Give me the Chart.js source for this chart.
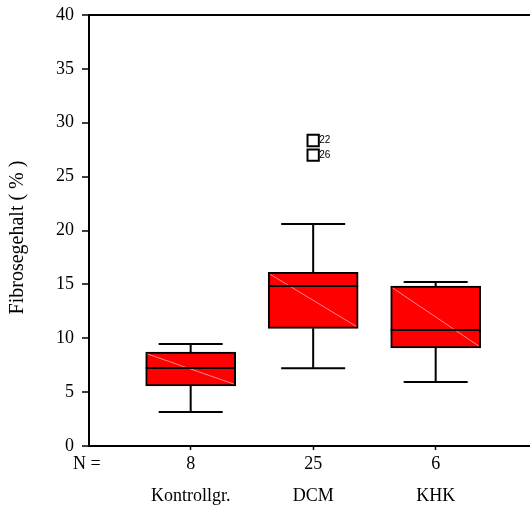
<!DOCTYPE html>
<html>
<head>
<meta charset="utf-8">
<script src="https://cdn.jsdelivr.net/npm/chart.js@4.4.1/dist/chart.umd.min.js"></script>
<style>
  html, body { margin: 0; padding: 0; background: #fff; overflow: hidden; }
  canvas { display: block; }
</style>
</head>
<body>
<canvas id="fibroseChart" width="530" height="508"></canvas>
<script>
const groups = ['Kontrollgr.', 'DCM', 'KHK'];
const groupN = [8, 25, 6];
const whiskerLow = [3.16, 7.21, 5.94];
const quartile1 = [5.57, 10.92, 9.1];
const medians = [7.24, 14.85, 10.77];
const quartile3 = [8.72, 16.12, 14.85];
const whiskerHigh = [9.47, 20.6, 15.22];

const outlierGroup = [1, 1];
const outlierValues = [28.35, 27.0];
const outlierCases = ['22', '26'];

const serif = 'Liberation Serif';
const yTitle = 'Fibrosegehalt ( % )';

// whiskers, caps, medians, outlier case numbers and the axis captions
const boxParts = {
    id: 'boxParts',
    afterDatasetDraw(chart, args) {
        if (args.index !== 0) return;
        const x = chart.scales.x, y = chart.scales.y, ctx = chart.ctx;
        const meta = chart.getDatasetMeta(0);
        ctx.save();
        groups.forEach((g, i) => {
            const cx = x.getPixelForValue(i);
            const bar = meta.data[i];
            const half = bar.width / 2;
            const yTop = y.getPixelForValue(quartile3[i]);
            const yBot = y.getPixelForValue(quartile1[i]);

            // faint diagonal inside the box
            ctx.strokeStyle = 'rgba(255,170,170,0.8)';
            ctx.lineWidth = 1;
            ctx.beginPath();
            ctx.moveTo(cx - half + 2, yTop + 2);
            ctx.lineTo(cx + half - 2, yBot - 2);
            ctx.stroke();

            ctx.strokeStyle = '#000';
            ctx.lineWidth = 2;
            ctx.beginPath();
            ctx.moveTo(cx - half, y.getPixelForValue(medians[i]));
            ctx.lineTo(cx + half, y.getPixelForValue(medians[i]));
            // whiskers
            ctx.moveTo(cx, yTop);
            ctx.lineTo(cx, y.getPixelForValue(whiskerHigh[i]));
            ctx.moveTo(cx, yBot);
            ctx.lineTo(cx, y.getPixelForValue(whiskerLow[i]));
            // caps
            const cap = 32;
            ctx.moveTo(cx - cap, y.getPixelForValue(whiskerHigh[i]));
            ctx.lineTo(cx + cap, y.getPixelForValue(whiskerHigh[i]));
            ctx.moveTo(cx - cap, y.getPixelForValue(whiskerLow[i]));
            ctx.lineTo(cx + cap, y.getPixelForValue(whiskerLow[i]));
            ctx.stroke();
        });
        ctx.restore();
    },
    afterDraw(chart) {
        const x = chart.scales.x, y = chart.scales.y, ctx = chart.ctx;
        ctx.save();
        ctx.fillStyle = '#000';
        ctx.font = '10px "Liberation Sans"';
        ctx.textBaseline = 'middle';
        outlierValues.forEach((v, i) => {
            ctx.fillText(outlierCases[i], x.getPixelForValue(outlierGroup[i]) + 6, y.getPixelForValue(v));
        });
        ctx.font = '18px "' + serif + '"';
        ctx.fillText('N =', 73, chart.chartArea.bottom + 18);

        // y-axis caption, sitting a little below the axis middle
        ctx.font = '20px "' + serif + '"';
        ctx.textAlign = 'center';
        ctx.translate(18, (chart.chartArea.top + chart.chartArea.bottom) / 2 + 7);
        ctx.rotate(-Math.PI / 2);
        ctx.fillText(yTitle, 0, 0);
        ctx.restore();
    }
};

new Chart(document.getElementById('fibroseChart'), {
    type: 'bar',
    data: {
        datasets: [{
            label: 'Box',
            data: groups.map((g, i) => ({ x: i, y: [quartile1[i], quartile3[i]] })),
            backgroundColor: '#ff0000',
            borderColor: '#000',
            borderWidth: 2,
            borderSkipped: false,
            barThickness: 90
        }, {
            type: 'scatter',
            label: 'Ausreißer',
            data: outlierValues.map((v, i) => ({ x: outlierGroup[i], y: v })),
            pointStyle: 'rect',
            pointRadius: 8,
            borderWidth: 2,
            borderColor: '#000',
            backgroundColor: 'rgba(255,255,255,0)'
        }]
    },
    options: {
        responsive: false,
        animation: false,
        layout: { autoPadding: false, padding: { top: 15, right: 0, left: 0, bottom: 0 } },
        plugins: {
            legend: { display: false },
            tooltip: { enabled: false }
        },
        scales: {
            x: {
                type: 'linear',
                min: -0.83,
                max: 2.77,
                offset: false,
                afterBuildTicks: (scale) => {
                    scale.ticks = groups.map((g, i) => ({ value: i }));
                },
                afterFit: (scale) => {
                    scale.height = 62;
                    scale.paddingLeft = 0;
                    scale.paddingRight = 0;
                },
                border: { color: '#000', width: 2 },
                grid: { offset: false, drawOnChartArea: false, tickLength: 4, tickColor: '#000', tickWidth: 1.5 },
                ticks: {
                    color: '#000',
                    font: { family: serif, size: 18, lineHeight: 1.78 },
                    padding: -2,
                    maxRotation: 0,
                    callback: (v) => [String(groupN[v]), groups[v]]
                }
            },
            y: {
                min: 0,
                max: 40,
                afterFit: (scale) => {
                    scale.width = 89;
                    scale.paddingTop = 0;
                    scale.paddingBottom = 0;
                },
                border: { color: '#000', width: 2 },
                grid: {
                    color: (c) => c.tick && c.tick.value === 40 ? '#000' : 'rgba(0,0,0,0)',
                    lineWidth: 2,
                    tickColor: '#000',
                    tickLength: 7,
                    tickWidth: 1.5
                },
                ticks: {
                    stepSize: 5,
                    color: '#000',
                    font: { family: serif, size: 18 },
                    padding: 8
                }
            }
        }
    },
    plugins: [boxParts]
});
</script>
</body>
</html>
